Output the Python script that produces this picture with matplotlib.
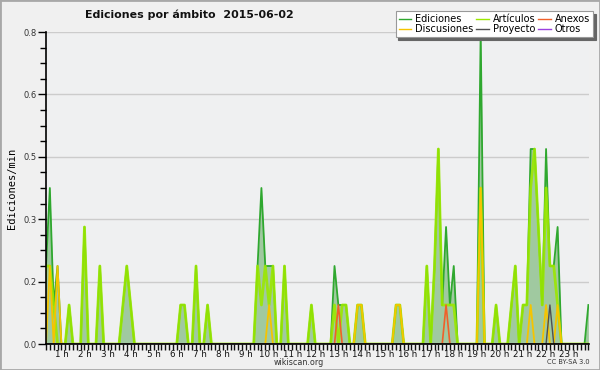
import numpy as np
import matplotlib
matplotlib.use("Agg")
import matplotlib.pyplot as plt
from matplotlib.ticker import FixedLocator, MultipleLocator
from matplotlib.patches import Rectangle

# 10-minute bins over the day (144 bins), values in edits/min
hours = [h for h in range(1, 24)]
hour_labels = [f"{h} h" for h in hours]
y_ticks = [0.0, 0.16, 0.32, 0.48, 0.64, 0.8]
y_tick_labels = ["0.0", "0.2", "0.3", "0.5", "0.6", "0.8"]

ediciones = [
    0, 0, 0.2, 0.4, 0.1, 0.2, 0, 0, 0.1, 0, 0, 0,
    0.3, 0, 0, 0, 0.2, 0, 0, 0, 0, 0, 0.1, 0.2,
    0.1, 0, 0, 0, 0, 0, 0, 0, 0, 0, 0, 0,
    0, 0.1, 0.1, 0, 0, 0.2, 0, 0, 0.1, 0, 0, 0,
    0, 0, 0, 0, 0, 0, 0, 0, 0, 0.2, 0.4, 0.2,
    0.2, 0.2, 0, 0, 0.2, 0, 0, 0, 0, 0, 0, 0.1,
    0, 0, 0, 0, 0, 0.2, 0.1, 0.1, 0.1, 0, 0, 0.1,
    0.1, 0, 0, 0, 0, 0, 0, 0, 0, 0.1, 0.1, 0,
    0, 0, 0, 0, 0, 0.2, 0, 0.2, 0.5, 0.1, 0.3, 0.1,
    0.2, 0, 0, 0, 0, 0, 0, 0.8, 0, 0, 0, 0.1,
    0, 0, 0, 0.1, 0.2, 0, 0.1, 0.1, 0.5, 0.5, 0.3, 0.1,
    0.5, 0.2, 0.2, 0.3, 0, 0, 0, 0, 0, 0, 0, 0.1,
]
articulos = [
    0, 0, 0.2, 0.2, 0.1, 0, 0, 0, 0.1, 0, 0, 0,
    0.3, 0, 0, 0, 0.2, 0, 0, 0, 0, 0, 0.1, 0.2,
    0.1, 0, 0, 0, 0, 0, 0, 0, 0, 0, 0, 0,
    0, 0.1, 0.1, 0, 0, 0.2, 0, 0, 0.1, 0, 0, 0,
    0, 0, 0, 0, 0, 0, 0, 0, 0, 0.2, 0.1, 0.2,
    0.1, 0.2, 0, 0, 0.2, 0, 0, 0, 0, 0, 0, 0.1,
    0, 0, 0, 0, 0, 0.1, 0, 0.1, 0.1, 0, 0, 0.1,
    0.1, 0, 0, 0, 0, 0, 0, 0, 0, 0.1, 0.1, 0,
    0, 0, 0, 0, 0, 0.2, 0, 0.2, 0.5, 0.1, 0.1, 0.1,
    0.1, 0, 0, 0, 0, 0, 0, 0.4, 0, 0, 0, 0.1,
    0, 0, 0, 0.1, 0.2, 0, 0.1, 0.1, 0.4, 0.5, 0.3, 0.1,
    0.4, 0.2, 0.2, 0.1, 0, 0, 0, 0, 0, 0, 0, 0,
]
anexos = [0] * 144
anexos[78] = 0.1
anexos[106] = 0.1
discusiones = [0] * 144
for b, v in [(3, 0.2), (5, 0.2), (60, 0.1), (83, 0.1), (84, 0.1), (93, 0.1),
             (94, 0.1), (115, 0.4), (128, 0.1), (132, 0.1), (135, 0.1)]:
    discusiones[b] = v
proyecto = [0] * 144
proyecto[133] = 0.1
otros = [0] * 144

t = np.arange(144) / 6.0

W, H = 600, 370
fig = plt.figure(figsize=(W / 100, H / 100), dpi=100, facecolor="#f0f0f0")
ax = fig.add_axes([46 / W, 1 - 344 / H, 543 / W, 312 / H])
ax.set_facecolor("#eff0f1")

ax.fill_between(t, ediciones, 0, color="#a0c9a0", lw=0, zorder=2)
ax.plot(t, ediciones, color="#2fa82f", lw=1.3, zorder=3, label="Ediciones")
ax.plot(t, articulos, color="#9be800", lw=2.0, alpha=0.9, zorder=4, label="Artículos")
ax.plot(t, anexos, color="#f0602a", lw=1.2, zorder=5, label="Anexos")
ax.plot(t, discusiones, color="#f5c400", lw=1.3, zorder=6, label="Discusiones")
ax.plot(t, proyecto, color="#505050", lw=1.0, zorder=7, label="Proyecto")
ax.plot(t, otros, color="#9a40e0", lw=1.0, zorder=7, label="Otros")

ax.set_xlim(2 / 6, 23.86)
ax.set_ylim(0, 0.8)

ax.xaxis.set_major_locator(FixedLocator(hours))
ax.set_xticklabels(hour_labels)
ax.xaxis.set_minor_locator(MultipleLocator(1 / 6))
ax.tick_params(axis="x", which="both", length=4, width=1, direction="out",
               pad=0, labelsize=6.3, colors="#111111")

ax.yaxis.set_major_locator(FixedLocator(y_ticks))
ax.set_yticklabels(y_tick_labels)
ax.yaxis.set_minor_locator(FixedLocator(np.arange(0, 0.81, 0.04)))
ax.tick_params(axis="y", which="major", length=6, width=1, pad=1,
               labelsize=6, labelcolor="#333333")
ax.tick_params(axis="y", which="minor", length=4, width=1)

ax.grid(axis="y", which="major", color="#cccccc", lw=1, zorder=1)
ax.set_axisbelow(True)
for s in ["top", "right"]:
    ax.spines[s].set_visible(False)
for s in ["left", "bottom"]:
    ax.spines[s].set_linewidth(1.2)
    ax.spines[s].set_zorder(10)

ax.set_ylabel("Ediciones/min", family="DejaVu Sans Mono", fontsize=7.5,
              labelpad=4)

fig.text(85 / W, 1 - 15 / H, "Ediciones por ámbito  2015-06-02",
         fontsize=7.9, fontweight="bold", ha="left", va="center", color="#111111")

h = ax.get_legend_handles_labels()[0]
order = [0, 3, 1, 4, 2, 5]
leg = fig.legend([h[i] for i in order],
                 ["Ediciones", "Discusiones", "Artículos", "Proyecto", "Anexos", "Otros"],
                 ncol=3, loc="upper right", bbox_to_anchor=(593 / W, 1 - 11 / H),
                 fontsize=7, frameon=True, fancybox=False, edgecolor="#999999",
                 facecolor="white", framealpha=1, handlelength=1.3,
                 handletextpad=0.4, columnspacing=0.3, labelspacing=0.05,
                 borderpad=0.3, borderaxespad=0,
                 shadow={"color": "#666666", "alpha": 1})
leg.get_frame().set_linewidth(0.8)
for line in leg.get_lines():
    line.set_linewidth(1.0)
    line.set_alpha(1)

fig.text(299 / W, 1 - 362.5 / H, "wikiscan.org", fontsize=5.8, ha="center",
         va="center", color="#333333")
fig.text(590 / W, 1 - 362.5 / H, "CC BY-SA 3.0", fontsize=4.8, ha="right",
         va="center", color="#333333")

fig.patches.append(Rectangle((0, 0), 1, 1, transform=fig.transFigure,
                             fill=False, edgecolor="#a8a8a8", lw=2))

fig.savefig("out.png", dpi=100, facecolor=fig.get_facecolor())
